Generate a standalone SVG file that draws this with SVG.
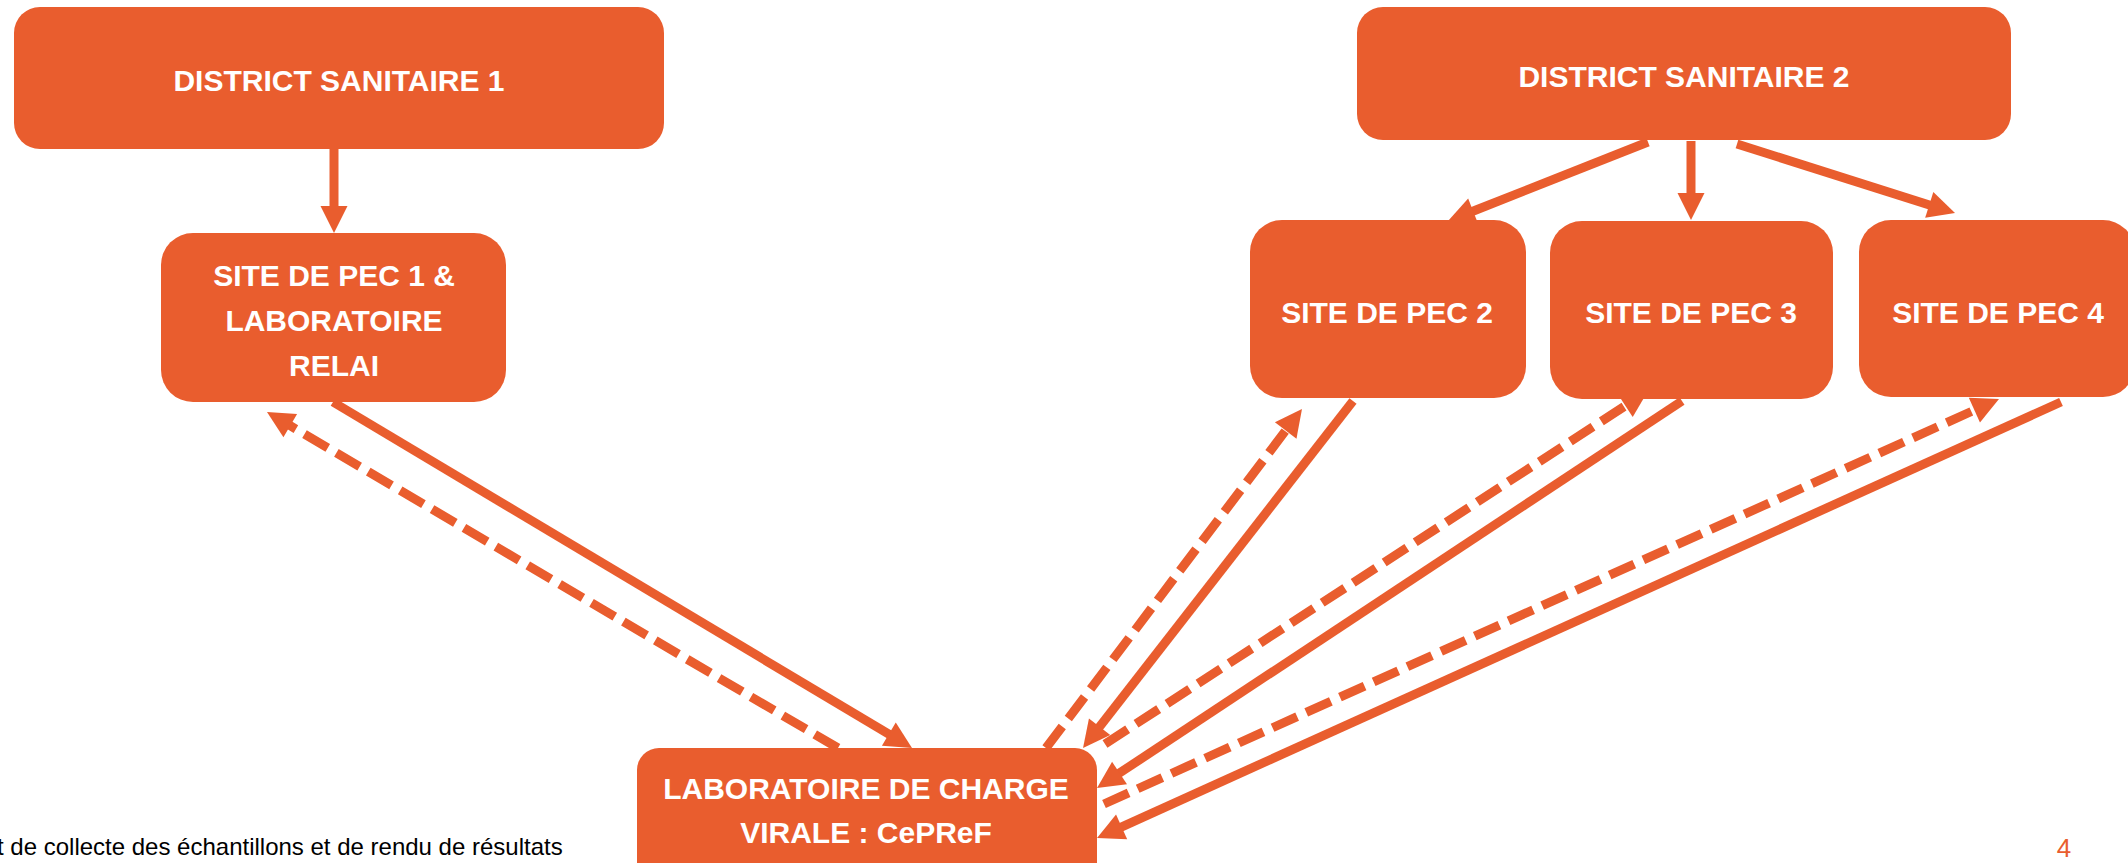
<svg xmlns="http://www.w3.org/2000/svg" width="2128" height="863" viewBox="0 0 2128 863">
  <style>
    .box { fill: #E95D2E; }
    .lbl { font-family: "Liberation Sans", Arial, sans-serif; font-weight: bold; font-size: 30px; fill: #FFFFFF; text-anchor: middle; }
    .ln { stroke: #E95D2E; stroke-width: 9; fill: none; marker-end: url(#ah); }
    .dash { stroke-dasharray: 27 10; }
    .foot { font-family: "Liberation Sans", Arial, sans-serif; font-size: 24px; fill: #000000; }
    .pg { font-family: "Liberation Sans", Arial, sans-serif; font-size: 26px; fill: #E95D2E; text-anchor: middle; }
  </style>
  <defs>
    <marker id="ah" markerUnits="userSpaceOnUse" markerWidth="28" markerHeight="28" viewBox="0 0 28 28" refX="1" refY="13.5" orient="auto" overflow="visible">
      <path d="M0,0 L27,13.5 L0,27 Z" fill="#E95D2E"/>
    </marker>
  </defs>
  <rect width="2128" height="863" fill="#FFFFFF"/>

  <g id="connectors">
    <line class="ln" x1="334" y1="149" x2="334" y2="207"/>
    <line class="ln" x1="1648" y1="142" x2="1472.2" y2="211.5"/>
    <line class="ln" x1="1691" y1="141" x2="1691" y2="194"/>
    <line class="ln" x1="1737" y1="144" x2="1930.2" y2="205.2"/>
    <line class="ln" x1="333" y1="402" x2="889.7" y2="734.7"/>
    <line class="ln dash" x1="838" y1="748" x2="289.4" y2="425.2"/>
    <line class="ln" x1="1353" y1="401" x2="1099" y2="727.5"/>
    <line class="ln dash" x1="1046" y1="748" x2="1286.3" y2="429.7"/>
    <line class="ln" x1="1682" y1="401" x2="1118.7" y2="773.6"/>
    <line class="ln dash" x1="1105" y1="744" x2="1626.2" y2="405.2"/>
    <line class="ln" x1="2061" y1="402" x2="1120.7" y2="827.3"/>
    <line class="ln dash" x1="1104" y1="804" x2="1975.3" y2="409.7"/>
  </g>

  <g id="district1">
    <rect class="box" x="14" y="7" width="650" height="142" rx="26" ry="26"/>
    <text class="lbl" x="339" y="91">DISTRICT SANITAIRE 1</text>
  </g>
  <g id="district2">
    <rect class="box" x="1357" y="7" width="654" height="133" rx="26" ry="26"/>
    <text class="lbl" x="1684" y="87">DISTRICT SANITAIRE 2</text>
  </g>
  <g id="site1">
    <rect class="box" x="161" y="233" width="345" height="169" rx="32" ry="32"/>
    <text class="lbl" x="334" y="286">SITE DE PEC 1 &amp;</text>
    <text class="lbl" x="334" y="331">LABORATOIRE</text>
    <text class="lbl" x="334" y="376">RELAI</text>
  </g>
  <g id="site2">
    <rect class="box" x="1250" y="220" width="276" height="178" rx="32" ry="32"/>
    <text class="lbl" x="1387" y="323">SITE DE PEC 2</text>
  </g>
  <g id="site3">
    <rect class="box" x="1550" y="221" width="283" height="178" rx="32" ry="32"/>
    <text class="lbl" x="1691" y="323">SITE DE PEC 3</text>
  </g>
  <g id="site4">
    <rect class="box" x="1859" y="220" width="276" height="177" rx="32" ry="32"/>
    <text class="lbl" x="1998" y="323">SITE DE PEC 4</text>
  </g>
  <g id="lab">
    <rect class="box" x="637" y="748" width="460" height="140" rx="22" ry="22"/>
    <text class="lbl" x="866" y="799">LABORATOIRE DE CHARGE</text>
    <text class="lbl" x="866" y="843">VIRALE : CePReF</text>
  </g>

  <text class="foot" x="-3" y="855">t de collecte des échantillons et de rendu de résultats</text>
  <text class="pg" x="2064" y="857">4</text>
</svg>
